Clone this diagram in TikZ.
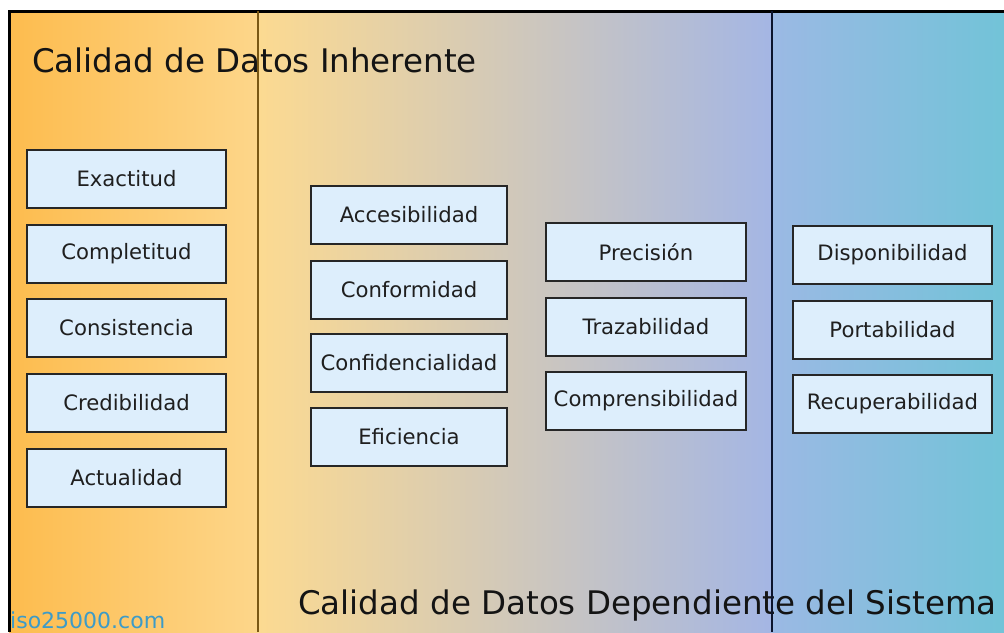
\documentclass[tikz,border=0pt]{standalone}
\usepackage{fontspec}
\setmainfont{DejaVu Sans}
\definecolor{orA}{RGB}{253,188,78}
\definecolor{orB}{RGB}{253,214,138}
\definecolor{orC}{RGB}{252,218,145}
\definecolor{midC}{RGB}{220,196,186}
\definecolor{blB}{RGB}{164,182,228}
\definecolor{blC}{RGB}{155,185,228}
\definecolor{cyD}{RGB}{114,195,216}
\definecolor{boxfill}{RGB}{221,238,252}
\definecolor{brownline}{RGB}{122,88,20}
\definecolor{navyline}{RGB}{12,20,45}
\definecolor{wm}{RGB}{60,155,200}
\begin{document}
\begin{tikzpicture}[x=1pt,y=-1pt,
  item/.style={draw=black!85,line width=2pt,fill=boxfill,minimum height=58pt,inner sep=0pt,font=\fontsize{21.2}{24}\selectfont,text=black!88},
  title/.style={anchor=base west,inner sep=0pt,font=\fontsize{32.5}{36}\selectfont,text=black!92}]
\useasboundingbox (0,0) rectangle (1004,632);
\fill[white] (0,0) rectangle (1004,632);
% backgrounds
\shade[left color=orA,right color=orB] (9,11) rectangle (258,632);
\shade[left color=orC,middle color=midC,right color=blB] (258,11) rectangle (772,632);
\shade[left color=blC,right color=cyD] (772,11) rectangle (1004,632);
% frame
\draw[line width=3pt,black] (9,632) -- (9,11) -- (1004,11);
% boxes
\node[item,minimum width=199pt] (b1) at (126.5,179) {Exactitud};
\node[item,minimum width=199pt] (b2) at (126.5,254) {Completitud};
\node[item,minimum width=199pt] (b3) at (126.5,328) {Consistencia};
\node[item,minimum width=199pt] (b4) at (126.5,403) {Credibilidad};
\node[item,minimum width=199pt] (b5) at (126.5,478) {Actualidad};
\node[item,minimum width=196pt] (c1) at (409,215) {Accesibilidad};
\node[item,minimum width=196pt] (c2) at (409,290) {Conformidad};
\node[item,minimum width=196pt] (c3) at (409,363) {Confidencialidad};
\node[item,minimum width=196pt] (c4) at (409,437) {Eficiencia};
\node[item,minimum width=200pt] (d1) at (646,252) {Precisión};
\node[item,minimum width=200pt] (d2) at (646,327) {Trazabilidad};
\node[item,minimum width=200pt] (d3) at (646,401) {Comprensibilidad};
\node[item,minimum width=199pt] (e1) at (892.5,255) {Disponibilidad};
\node[item,minimum width=199pt] (e2) at (892.5,330) {Portabilidad};
\node[item,minimum width=199pt] (e3) at (892.5,404) {Recuperabilidad};
% titles
\node[title] (t1) at (32,72) {Calidad de Datos Inherente};
\node[title] (t2) at (298,614) {Calidad de Datos Dependiente del Sistema};
\node[anchor=base west,inner sep=0pt,font=\fontsize{22}{24}\selectfont,text=wm] (wm) at (10,628) {iso25000.com};
% dividers
\draw[line width=2.6pt,brownline] (258,11) -- (258,632);
\draw[line width=2.8pt,navyline] (772,11) -- (772,632);
\end{tikzpicture}
\end{document}
